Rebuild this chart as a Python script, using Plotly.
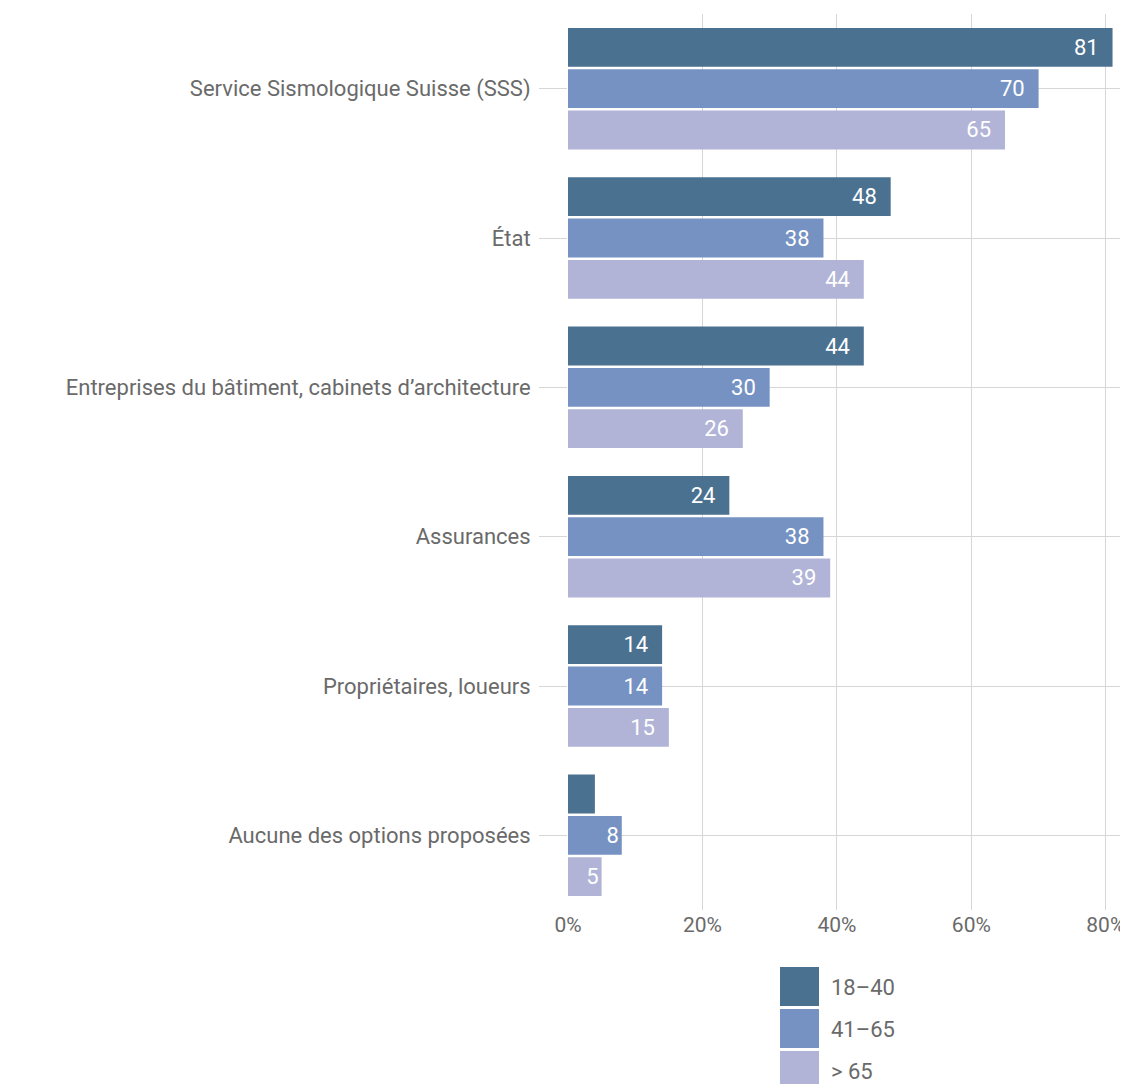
import plotly.graph_objects as go

categories = [
    "Service Sismologique Suisse (SSS)",
    "État",
    "Entreprises du bâtiment, cabinets d’architecture",
    "Assurances",
    "Propriétaires, loueurs",
    "Aucune des options proposées",
]
series_names = ["18–40", "41–65", "> 65"]
v_18_40 = [81, 48, 44, 24, 14, 4]
v_41_65 = [70, 38, 30, 38, 14, 8]
v_65 = [65, 44, 26, 39, 15, 5]
x_ticks = [0, 20, 40, 60, 80]
x_tick_labels = ["0%", "20%", "40%", "60%", "80%"]

colors = ["#4b7190", "#7592c3", "#b1b4d7"]
FONT = "Roboto"
GREY = "#6a6a6a"
FS = 22

W, H = 1120, 1076
L, T = 560, 6
PW, PH = 560, 896

fig = go.Figure()
for name, vals, col in zip(series_names, [v_18_40, v_41_65, v_65], colors):
    fig.add_trace(go.Bar(
        y=categories, x=vals, name=name, orientation="h",
        marker=dict(color=col, line=dict(width=0)),
        text=[(str(v) + ("\u00a0\u00a0" if v >= 10 else "")) if v >= 5 else "" for v in vals],
        textposition="inside", insidetextanchor="end",
        textfont=dict(color="white", size=FS, family=FONT),
        showlegend=False, hoverinfo="skip",
    ))

fig.update_layout(
    width=W, height=H,
    margin=dict(l=L, r=W - L - PW, t=T, b=H - T - PH),
    paper_bgcolor="white", plot_bgcolor="white",
    barmode="group", bargap=0.17, bargroupgap=0.06,
    font=dict(family=FONT, color=GREY, size=FS),
    uniformtext=dict(minsize=FS, mode="show"),
)
fig.update_xaxes(
    range=[0, 83.3], tickvals=x_ticks, ticktext=x_tick_labels,
    showgrid=True, gridcolor="#d6d6d6", gridwidth=1, zeroline=False,
    showline=False, ticks="", tickfont=dict(size=21, color=GREY),
)
fig.update_yaxes(
    autorange="reversed", showgrid=True, gridcolor="#d6d6d6", gridwidth=1,
    ticks="outside", ticklen=28, tickcolor="#d6d6d6", tickwidth=1,
    showline=False, tickfont=dict(size=FS, color=GREY), ticklabelstandoff=4,
)

# manual legend with large swatches (page pixel positions minus 8px body margin)
def px(xp):
    return (xp - 8 - L) / PW

def py(yp):
    return (T + PH - (yp - 8)) / PH

tops = [967, 1009, 1051]
for name, col, top in zip(series_names, colors, tops):
    fig.add_shape(type="rect", xref="paper", yref="paper",
                  x0=px(780), x1=px(819), y0=py(top + 39), y1=py(top),
                  fillcolor=col, line=dict(width=0))
    fig.add_annotation(xref="paper", yref="paper",
                       x=px(829), y=py(top + 20),
                       text=name, showarrow=False, xanchor="left", yanchor="middle",
                       font=dict(size=FS, color=GREY, family=FONT))

fig.write_html("out.html")
